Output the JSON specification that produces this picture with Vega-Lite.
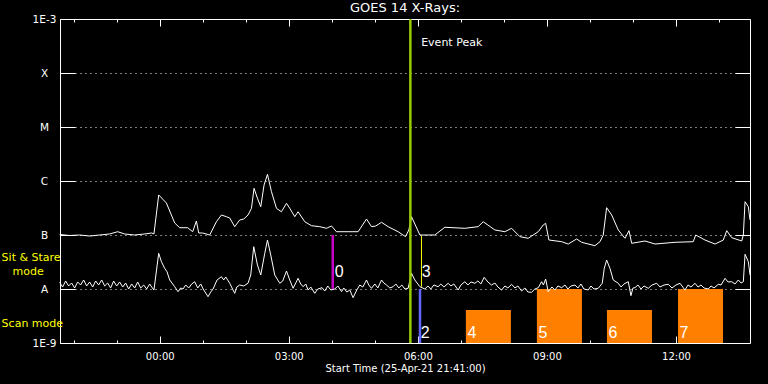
{
  "$schema": "https://vega.github.io/schema/vega-lite/v6.json",
  "width": 690,
  "height": 324,
  "autosize": {"type": "none"},
  "padding": {"left": 60, "top": 19, "right": 18, "bottom": 41},
  "background": "black",
  "title": {"text": "GOES 14 X-Rays:", "color": "white", "font": "DejaVu Sans", "fontSize": 13, "fontWeight": "normal", "anchor": "middle", "frame": "group", "baseline": "alphabetic", "offset": -11},
  "config": {"view": {"stroke": "white", "strokeWidth": 1}},
  "datasets": {
    "long": [
      {"hour":-2.326,"log_flux":-6.991},{"hour":-2.093,"log_flux":-7.009},{"hour":-1.860,"log_flux":-7.0},{"hour":-1.628,"log_flux":-7.019},{"hour":-1.395,"log_flux":-7.0},{"hour":-1.163,"log_flux":-6.981},{"hour":-0.977,"log_flux":-6.939},{"hour":-0.814,"log_flux":-6.981},{"hour":-0.581,"log_flux":-7.0},{"hour":-0.349,"log_flux":-6.981},{"hour":-0.186,"log_flux":-6.963},{"hour":-0.133,"log_flux":-6.981},{"hour":-0.023,"log_flux":-6.259},{"hour":0.156,"log_flux":-6.407},{"hour":0.349,"log_flux":-6.778},{"hour":0.465,"log_flux":-6.865},{"hour":0.651,"log_flux":-6.865},{"hour":0.767,"log_flux":-6.939},{"hour":0.853,"log_flux":-6.741},{"hour":0.907,"log_flux":-6.963},{"hour":1.000,"log_flux":-6.963},{"hour":1.163,"log_flux":-7.0},{"hour":1.319,"log_flux":-6.754},{"hour":1.435,"log_flux":-6.630},{"hour":1.551,"log_flux":-6.661},{"hour":1.628,"log_flux":-6.685},{"hour":1.744,"log_flux":-6.846},{"hour":1.860,"log_flux":-6.722},{"hour":1.953,"log_flux":-6.704},{"hour":2.053,"log_flux":-6.630},{"hour":2.133,"log_flux":-6.506},{"hour":2.193,"log_flux":-6.135},{"hour":2.272,"log_flux":-6.320},{"hour":2.349,"log_flux":-6.476},{"hour":2.426,"log_flux":-6.074},{"hour":2.505,"log_flux":-5.876},{"hour":2.598,"log_flux":-6.198},{"hour":2.714,"log_flux":-6.506},{"hour":2.830,"log_flux":-6.569},{"hour":2.947,"log_flux":-6.413},{"hour":3.023,"log_flux":-6.506},{"hour":3.140,"log_flux":-6.661},{"hour":3.216,"log_flux":-6.569},{"hour":3.372,"log_flux":-6.754},{"hour":3.528,"log_flux":-6.828},{"hour":3.721,"log_flux":-6.846},{"hour":3.877,"log_flux":-6.876},{"hour":3.993,"log_flux":-6.833},{"hour":4.109,"log_flux":-6.939},{"hour":4.379,"log_flux":-6.939},{"hour":4.612,"log_flux":-6.939},{"hour":4.807,"log_flux":-6.704},{"hour":4.923,"log_flux":-6.846},{"hour":5.023,"log_flux":-6.833},{"hour":5.156,"log_flux":-6.765},{"hour":5.309,"log_flux":-6.846},{"hour":5.542,"log_flux":-6.939},{"hour":5.714,"log_flux":-7.031},{"hour":5.791,"log_flux":-6.907},{"hour":5.853,"log_flux":-6.661},{"hour":6.047,"log_flux":-7.0},{"hour":6.395,"log_flux":-7.0},{"hour":6.628,"log_flux":-6.857},{"hour":7.093,"log_flux":-6.876},{"hour":7.402,"log_flux":-6.846},{"hour":7.519,"log_flux":-6.754},{"hour":7.791,"log_flux":-6.907},{"hour":8.023,"log_flux":-6.939},{"hour":8.179,"log_flux":-6.876},{"hour":8.372,"log_flux":-7.031},{"hour":8.565,"log_flux":-7.061},{"hour":8.798,"log_flux":-6.939},{"hour":8.914,"log_flux":-6.815},{"hour":8.970,"log_flux":-6.783},{"hour":9.047,"log_flux":-7.093},{"hour":9.342,"log_flux":-7.124},{"hour":9.495,"log_flux":-7.167},{"hour":9.691,"log_flux":-7.074},{"hour":9.807,"log_flux":-7.135},{"hour":10.116,"log_flux":-7.198},{"hour":10.233,"log_flux":-7.124},{"hour":10.309,"log_flux":-7.0},{"hour":10.388,"log_flux":-6.494},{"hour":10.505,"log_flux":-6.630},{"hour":10.658,"log_flux":-6.907},{"hour":10.814,"log_flux":-7.061},{"hour":10.907,"log_flux":-6.920},{"hour":10.970,"log_flux":-7.154},{"hour":11.279,"log_flux":-7.111},{"hour":11.512,"log_flux":-7.167},{"hour":11.977,"log_flux":-7.135},{"hour":12.402,"log_flux":-7.124},{"hour":12.458,"log_flux":-7.0},{"hour":12.674,"log_flux":-7.093},{"hour":12.907,"log_flux":-7.167},{"hour":13.100,"log_flux":-7.093},{"hour":13.179,"log_flux":-6.920},{"hour":13.295,"log_flux":-7.050},{"hour":13.528,"log_flux":-7.111},{"hour":13.565,"log_flux":-7.0},{"hour":13.605,"log_flux":-6.383},{"hour":13.681,"log_flux":-6.476},{"hour":13.721,"log_flux":-6.722}
    ],
    "short": [
      {"hour":-2.326,"log_flux":-7.876},{"hour":-2.256,"log_flux":-7.963},{"hour":-2.186,"log_flux":-7.852},{"hour":-2.116,"log_flux":-7.944},{"hour":-2.047,"log_flux":-7.889},{"hour":-1.977,"log_flux":-7.981},{"hour":-1.907,"log_flux":-7.870},{"hour":-1.837,"log_flux":-7.926},{"hour":-1.767,"log_flux":-7.833},{"hour":-1.698,"log_flux":-7.944},{"hour":-1.628,"log_flux":-7.870},{"hour":-1.558,"log_flux":-7.963},{"hour":-1.488,"log_flux":-7.852},{"hour":-1.419,"log_flux":-7.926},{"hour":-1.349,"log_flux":-7.833},{"hour":-1.279,"log_flux":-7.944},{"hour":-1.209,"log_flux":-7.889},{"hour":-1.140,"log_flux":-7.981},{"hour":-1.070,"log_flux":-7.852},{"hour":-1.0,"log_flux":-7.944},{"hour":-0.930,"log_flux":-7.870},{"hour":-0.860,"log_flux":-7.963},{"hour":-0.791,"log_flux":-7.889},{"hour":-0.721,"log_flux":-8.0},{"hour":-0.651,"log_flux":-7.907},{"hour":-0.581,"log_flux":-7.981},{"hour":-0.512,"log_flux":-7.870},{"hour":-0.442,"log_flux":-7.981},{"hour":-0.372,"log_flux":-7.926},{"hour":-0.302,"log_flux":-8.0},{"hour":-0.233,"log_flux":-7.907},{"hour":-0.186,"log_flux":-7.963},{"hour":-0.133,"log_flux":-8.019},{"hour":-0.023,"log_flux":-7.339},{"hour":0.040,"log_flux":-7.494},{"hour":0.116,"log_flux":-7.617},{"hour":0.170,"log_flux":-7.680},{"hour":0.233,"log_flux":-7.833},{"hour":0.349,"log_flux":-7.957},{"hour":0.426,"log_flux":-8.050},{"hour":0.488,"log_flux":-7.981},{"hour":0.542,"log_flux":-8.0},{"hour":0.605,"log_flux":-7.926},{"hour":0.674,"log_flux":-7.981},{"hour":0.744,"log_flux":-7.907},{"hour":0.814,"log_flux":-7.865},{"hour":0.884,"log_flux":-7.981},{"hour":0.953,"log_flux":-7.907},{"hour":1.023,"log_flux":-8.019},{"hour":1.070,"log_flux":-8.074},{"hour":1.123,"log_flux":-8.143},{"hour":1.186,"log_flux":-8.056},{"hour":1.240,"log_flux":-8.0},{"hour":1.333,"log_flux":-7.833},{"hour":1.435,"log_flux":-7.772},{"hour":1.488,"log_flux":-7.833},{"hour":1.535,"log_flux":-7.778},{"hour":1.628,"log_flux":-7.894},{"hour":1.705,"log_flux":-8.019},{"hour":1.744,"log_flux":-8.080},{"hour":1.791,"log_flux":-7.963},{"hour":1.860,"log_flux":-7.926},{"hour":1.953,"log_flux":-7.944},{"hour":2.053,"log_flux":-7.894},{"hour":2.116,"log_flux":-7.741},{"hour":2.186,"log_flux":-7.217},{"hour":2.272,"log_flux":-7.556},{"hour":2.349,"log_flux":-7.741},{"hour":2.442,"log_flux":-7.339},{"hour":2.505,"log_flux":-7.093},{"hour":2.581,"log_flux":-7.370},{"hour":2.674,"log_flux":-7.741},{"hour":2.744,"log_flux":-7.833},{"hour":2.791,"log_flux":-7.894},{"hour":2.860,"log_flux":-7.852},{"hour":2.947,"log_flux":-7.667},{"hour":3.023,"log_flux":-7.833},{"hour":3.100,"log_flux":-7.987},{"hour":3.163,"log_flux":-7.889},{"hour":3.216,"log_flux":-7.802},{"hour":3.279,"log_flux":-7.907},{"hour":3.333,"log_flux":-7.957},{"hour":3.395,"log_flux":-7.907},{"hour":3.449,"log_flux":-8.019},{"hour":3.512,"log_flux":-7.963},{"hour":3.605,"log_flux":-8.080},{"hour":3.674,"log_flux":-8.0},{"hour":3.774,"log_flux":-7.976},{"hour":3.837,"log_flux":-8.037},{"hour":3.907,"log_flux":-7.944},{"hour":3.977,"log_flux":-8.019},{"hour":4.070,"log_flux":-8.0},{"hour":4.140,"log_flux":-7.944},{"hour":4.226,"log_flux":-8.050},{"hour":4.279,"log_flux":-7.981},{"hour":4.349,"log_flux":-8.056},{"hour":4.419,"log_flux":-8.019},{"hour":4.495,"log_flux":-8.161},{"hour":4.581,"log_flux":-8.019},{"hour":4.651,"log_flux":-7.926},{"hour":4.721,"log_flux":-7.963},{"hour":4.807,"log_flux":-7.833},{"hour":4.860,"log_flux":-7.926},{"hour":4.923,"log_flux":-7.987},{"hour":5.0,"log_flux":-7.907},{"hour":5.070,"log_flux":-7.981},{"hour":5.156,"log_flux":-7.833},{"hour":5.209,"log_flux":-7.889},{"hour":5.272,"log_flux":-7.926},{"hour":5.349,"log_flux":-7.981},{"hour":5.426,"log_flux":-7.957},{"hour":5.488,"log_flux":-7.907},{"hour":5.558,"log_flux":-7.981},{"hour":5.628,"log_flux":-7.926},{"hour":5.698,"log_flux":-8.0},{"hour":5.774,"log_flux":-7.987},{"hour":5.853,"log_flux":-7.709},{"hour":5.930,"log_flux":-7.833},{"hour":6.047,"log_flux":-7.957},{"hour":6.163,"log_flux":-8.0},{"hour":6.233,"log_flux":-7.944},{"hour":6.302,"log_flux":-8.0},{"hour":6.372,"log_flux":-7.926},{"hour":6.472,"log_flux":-7.957},{"hour":6.535,"log_flux":-7.907},{"hour":6.605,"log_flux":-7.963},{"hour":6.705,"log_flux":-7.894},{"hour":6.767,"log_flux":-7.944},{"hour":6.837,"log_flux":-7.907},{"hour":6.937,"log_flux":-8.019},{"hour":7.0,"log_flux":-7.926},{"hour":7.093,"log_flux":-7.865},{"hour":7.163,"log_flux":-7.926},{"hour":7.233,"log_flux":-7.870},{"hour":7.326,"log_flux":-7.894},{"hour":7.395,"log_flux":-7.852},{"hour":7.465,"log_flux":-7.907},{"hour":7.542,"log_flux":-7.783},{"hour":7.628,"log_flux":-7.870},{"hour":7.714,"log_flux":-7.926},{"hour":7.791,"log_flux":-7.889},{"hour":7.860,"log_flux":-7.963},{"hour":7.947,"log_flux":-8.019},{"hour":8.023,"log_flux":-7.944},{"hour":8.093,"log_flux":-7.981},{"hour":8.179,"log_flux":-7.913},{"hour":8.256,"log_flux":-7.981},{"hour":8.326,"log_flux":-7.944},{"hour":8.412,"log_flux":-8.037},{"hour":8.488,"log_flux":-7.981},{"hour":8.558,"log_flux":-8.056},{"hour":8.644,"log_flux":-8.061},{"hour":8.721,"log_flux":-8.0},{"hour":8.798,"log_flux":-7.976},{"hour":8.877,"log_flux":-7.865},{"hour":8.919,"log_flux":-7.926},{"hour":8.970,"log_flux":-7.815},{"hour":9.030,"log_flux":-8.050},{"hour":9.116,"log_flux":-7.963},{"hour":9.186,"log_flux":-8.019},{"hour":9.256,"log_flux":-7.944},{"hour":9.342,"log_flux":-7.976},{"hour":9.419,"log_flux":-7.926},{"hour":9.488,"log_flux":-8.0},{"hour":9.558,"log_flux":-7.944},{"hour":9.651,"log_flux":-7.926},{"hour":9.721,"log_flux":-7.981},{"hour":9.791,"log_flux":-7.907},{"hour":9.860,"log_flux":-8.0},{"hour":9.960,"log_flux":-8.019},{"hour":10.023,"log_flux":-7.944},{"hour":10.093,"log_flux":-8.0},{"hour":10.193,"log_flux":-7.987},{"hour":10.286,"log_flux":-7.894},{"hour":10.333,"log_flux":-7.617},{"hour":10.388,"log_flux":-7.463},{"hour":10.465,"log_flux":-7.617},{"hour":10.542,"log_flux":-7.833},{"hour":10.658,"log_flux":-7.894},{"hour":10.721,"log_flux":-7.963},{"hour":10.791,"log_flux":-7.907},{"hour":10.891,"log_flux":-7.865},{"hour":10.953,"log_flux":-8.124},{"hour":11.0,"log_flux":-7.981},{"hour":11.047,"log_flux":-7.976},{"hour":11.116,"log_flux":-7.926},{"hour":11.186,"log_flux":-8.0},{"hour":11.256,"log_flux":-7.944},{"hour":11.356,"log_flux":-7.987},{"hour":11.442,"log_flux":-7.926},{"hour":11.551,"log_flux":-7.894},{"hour":11.628,"log_flux":-7.963},{"hour":11.721,"log_flux":-7.926},{"hour":11.821,"log_flux":-7.913},{"hour":11.907,"log_flux":-7.981},{"hour":12.0,"log_flux":-7.926},{"hour":12.093,"log_flux":-7.894},{"hour":12.209,"log_flux":-8.019},{"hour":12.279,"log_flux":-7.926},{"hour":12.349,"log_flux":-7.963},{"hour":12.442,"log_flux":-7.894},{"hour":12.512,"log_flux":-7.963},{"hour":12.581,"log_flux":-7.926},{"hour":12.651,"log_flux":-7.981},{"hour":12.751,"log_flux":-8.0},{"hour":12.814,"log_flux":-7.944},{"hour":12.884,"log_flux":-7.981},{"hour":12.984,"log_flux":-7.913},{"hour":13.047,"log_flux":-7.926},{"hour":13.140,"log_flux":-7.802},{"hour":13.209,"log_flux":-7.870},{"hour":13.295,"log_flux":-7.865},{"hour":13.372,"log_flux":-7.907},{"hour":13.449,"log_flux":-7.833},{"hour":13.512,"log_flux":-7.889},{"hour":13.565,"log_flux":-7.865},{"hour":13.605,"log_flux":-7.357},{"hour":13.681,"log_flux":-7.494},{"hour":13.721,"log_flux":-7.741}
    ],
    "scans": [
      {"scan":"4","start":7.116,"end":8.163,"top":-8.389},
      {"scan":"5","start":8.767,"end":9.814,"top":-8.0},
      {"scan":"6","start":10.395,"end":11.442,"top":-8.389},
      {"scan":"7","start":12.047,"end":13.093,"top":-8.0}
    ],
    "events": [
      {"event":"0","hour":4.023,"low":-8.0,"high":-7.0},
      {"event":"2","hour":6.05,"low":-9.0,"high":-8.0},
      {"event":"3","hour":6.084,"low":-7.957,"high":-7.013},
      {"event":"Event Peak","hour":5.826,"low":-9.0,"high":-3.0}
    ],
    "labels": [
      {"text":"0","hour":4.047,"log_flux":-7.685},
      {"text":"3","hour":6.07,"log_flux":-7.685},
      {"text":"2","hour":6.047,"log_flux":-8.806},
      {"text":"4","hour":7.13,"log_flux":-8.806},
      {"text":"5","hour":8.78,"log_flux":-8.806},
      {"text":"6","hour":10.41,"log_flux":-8.806},
      {"text":"7","hour":12.06,"log_flux":-8.806},
      {"text":"Event Peak","hour":6.077,"log_flux":-3.444}
    ],
    "modes": [
      {"text":"Sit & Stare","hour":-3.674,"log_flux":-7.435},
      {"text":"mode","hour":-3.419,"log_flux":-7.676},
      {"text":"Scan mode","hour":-3.674,"log_flux":-8.648}
    ]
  },
  "resolve": {"axis": {"x": "independent", "y": "independent"}},
  "layer": [
    {
      "data": {"name": "scans"},
      "mark": {"type": "rect", "color": "#ff8000"},
      "encoding": {
        "x": {"field": "start", "type": "quantitative", "scale": {"domain": [-2.317, 13.72], "nice": false, "zero": false},
          "axis": {"orient": "bottom", "values": [0, 3, 6, 9, 12], "tickSize": -7, "tickColor": "white", "tickWidth": 1, "labelPadding": 15, "labelExpr": "(datum.value < 10 ? '0' : '') + datum.value + ':00'", "labelColor": "white", "labelFont": "DejaVu Sans", "labelFontSize": 10, "labelFlush": false, "labelOverlap": false, "domain": false, "grid": false, "title": "Start Time (25-Apr-21 21:41:00)", "titleColor": "white", "titleFont": "DejaVu Sans", "titleFontSize": 10, "titleFontWeight": "normal", "titlePadding": 2}},
        "x2": {"field": "end"},
        "y": {"field": "top", "type": "quantitative", "scale": {"domain": [-9, -3], "nice": false, "zero": false},
          "axis": {"orient": "left", "values": [-9, -8, -7, -6, -5, -4, -3], "tickSize": -15, "tickColor": "white", "tickWidth": 1, "labelPadding": 31, "labelAlign": "center", "labelBaseline": "middle", "labelExpr": "datum.value == -9 ? '1E-9' : datum.value == -8 ? 'A' : datum.value == -7 ? 'B' : datum.value == -6 ? 'C' : datum.value == -5 ? 'M' : datum.value == -4 ? 'X' : '1E-3'", "labelColor": "white", "labelFont": "DejaVu Sans", "labelFontSize": 10.5, "labelFlush": false, "labelOverlap": false, "domain": false, "grid": true, "gridColor": "white", "gridDash": [1, 4], "gridWidth": 1, "title": null}},
        "y2": {"datum": -9}
      }
    },
    {
      "data": {"name": "events"},
      "transform": [{"filter": "datum.event == '0'"}],
      "mark": {"type": "rule", "color": "#c800c8", "strokeWidth": 2.5},
      "encoding": {
        "x": {"field": "hour", "type": "quantitative", "scale": {"domain": [-2.317, 13.72], "nice": false, "zero": false},
          "axis": {"orient": "bottom", "values": [-2, -1, 0, 1, 2, 3, 4, 5, 6, 7, 8, 9, 10, 11, 12, 13], "tickSize": -3, "tickColor": "white", "labels": false, "domain": false, "grid": false, "title": null}},
        "y": {"field": "low", "type": "quantitative", "scale": {"domain": [-9, -3], "nice": false, "zero": false},
          "axis": {"orient": "right", "values": [-8, -7, -6, -5, -4], "tickSize": -15, "tickColor": "white", "labels": false, "domain": false, "grid": false, "title": null}},
        "y2": {"field": "high"}
      }
    },
    {
      "data": {"name": "events"},
      "transform": [{"filter": "datum.event == '2'"}],
      "mark": {"type": "rule", "color": "#6464ff", "strokeWidth": 2.5},
      "encoding": {
        "x": {"field": "hour", "type": "quantitative", "scale": {"domain": [-2.317, 13.72], "nice": false, "zero": false},
          "axis": {"orient": "top", "values": [0, 3, 6, 9, 12], "tickSize": -7, "tickColor": "white", "labels": false, "domain": false, "grid": false, "title": null}},
        "y": {"field": "low", "type": "quantitative", "scale": {"domain": [-9, -3], "nice": false, "zero": false}, "axis": null},
        "y2": {"field": "high"}
      }
    },
    {
      "data": {"name": "events"},
      "transform": [{"filter": "datum.event == '3'"}],
      "mark": {"type": "rule", "color": "#ffff00", "strokeWidth": 1},
      "encoding": {
        "x": {"field": "hour", "type": "quantitative", "scale": {"domain": [-2.317, 13.72], "nice": false, "zero": false},
          "axis": {"orient": "top", "values": [-2, -1, 0, 1, 2, 3, 4, 5, 6, 7, 8, 9, 10, 11, 12, 13], "tickSize": -3, "tickColor": "white", "labels": false, "domain": false, "grid": false, "title": null}},
        "y": {"field": "low", "type": "quantitative", "scale": {"domain": [-9, -3], "nice": false, "zero": false}, "axis": null},
        "y2": {"field": "high"}
      }
    },
    {
      "data": {"name": "long"},
      "mark": {"type": "line", "color": "white", "strokeWidth": 1},
      "encoding": {
        "x": {"field": "hour", "type": "quantitative", "scale": {"domain": [-2.317, 13.72], "nice": false, "zero": false}, "axis": null},
        "y": {"field": "log_flux", "type": "quantitative", "scale": {"domain": [-9, -3], "nice": false, "zero": false}, "axis": null}
      }
    },
    {
      "data": {"name": "short"},
      "mark": {"type": "line", "color": "white", "strokeWidth": 1},
      "encoding": {
        "x": {"field": "hour", "type": "quantitative", "scale": {"domain": [-2.317, 13.72], "nice": false, "zero": false}, "axis": null},
        "y": {"field": "log_flux", "type": "quantitative", "scale": {"domain": [-9, -3], "nice": false, "zero": false}, "axis": null}
      }
    },
    {
      "data": {"name": "events"},
      "transform": [{"filter": "datum.event == 'Event Peak'"}],
      "mark": {"type": "rule", "color": "#99cc00", "strokeWidth": 2.5},
      "encoding": {
        "x": {"field": "hour", "type": "quantitative", "scale": {"domain": [-2.317, 13.72], "nice": false, "zero": false}, "axis": null},
        "y": {"field": "low", "type": "quantitative", "scale": {"domain": [-9, -3], "nice": false, "zero": false}, "axis": null},
        "y2": {"field": "high"}
      }
    },
    {
      "data": {"name": "labels"},
      "transform": [{"filter": "datum.text != 'Event Peak'"}],
      "mark": {"type": "text", "color": "white", "font": "Liberation Sans", "fontSize": 16, "align": "left", "baseline": "middle", "dx": 1},
      "encoding": {
        "x": {"field": "hour", "type": "quantitative", "scale": {"domain": [-2.317, 13.72], "nice": false, "zero": false}, "axis": null},
        "y": {"field": "log_flux", "type": "quantitative", "scale": {"domain": [-9, -3], "nice": false, "zero": false}, "axis": null},
        "text": {"field": "text"}
      }
    },
    {
      "data": {"name": "labels"},
      "transform": [{"filter": "datum.text == 'Event Peak'"}],
      "mark": {"type": "text", "color": "white", "font": "DejaVu Sans", "fontSize": 11, "align": "left", "baseline": "middle"},
      "encoding": {
        "x": {"field": "hour", "type": "quantitative", "scale": {"domain": [-2.317, 13.72], "nice": false, "zero": false}, "axis": null},
        "y": {"field": "log_flux", "type": "quantitative", "scale": {"domain": [-9, -3], "nice": false, "zero": false}, "axis": null},
        "text": {"field": "text"}
      }
    },
    {
      "data": {"name": "modes"},
      "mark": {"type": "text", "color": "#ffff00", "font": "DejaVu Sans", "fontSize": 11, "align": "left", "baseline": "middle"},
      "encoding": {
        "x": {"field": "hour", "type": "quantitative", "scale": {"domain": [-2.317, 13.72], "nice": false, "zero": false}, "axis": null},
        "y": {"field": "log_flux", "type": "quantitative", "scale": {"domain": [-9, -3], "nice": false, "zero": false}, "axis": null},
        "text": {"field": "text"}
      }
    }
  ]
}
